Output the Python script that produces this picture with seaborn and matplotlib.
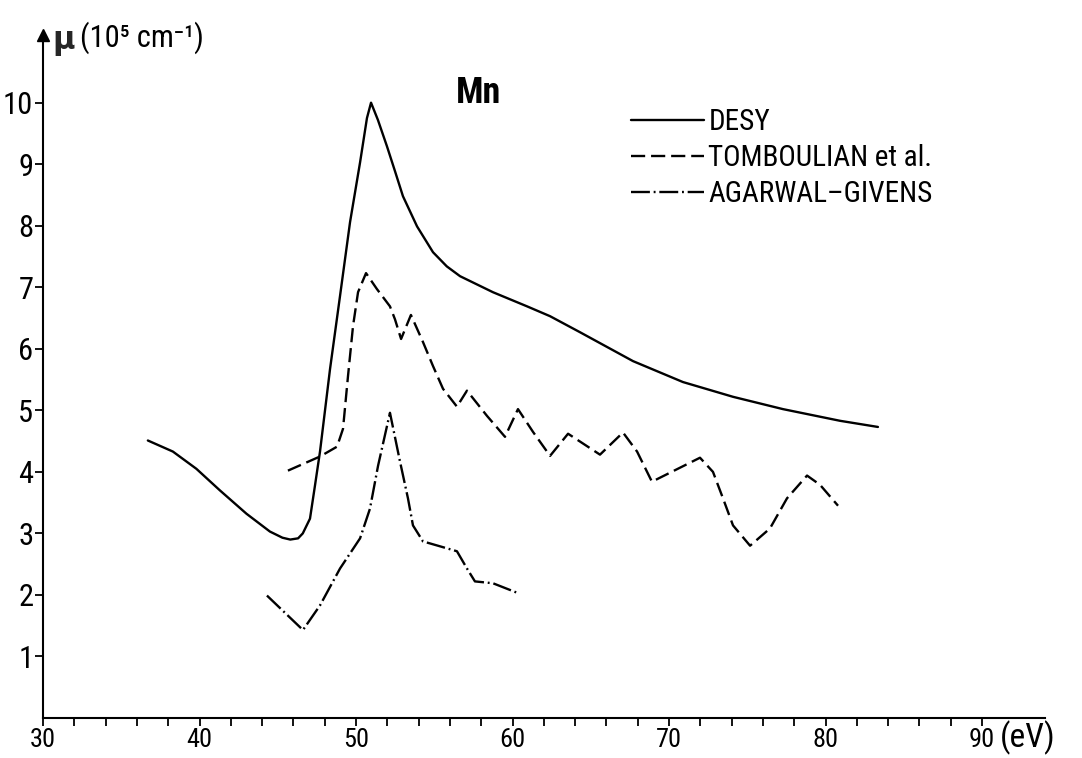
import numpy as np
import pandas as pd
import seaborn as sns
import matplotlib
matplotlib.use("Agg")
import matplotlib.pyplot as plt
import matplotlib.font_manager as fm

# ---- data (photon energy in eV, absorption coefficient in 10^5 cm^-1) ----
desy_x = [36.7, 38.3, 39.8, 41.3, 43.0, 44.5, 45.3, 45.8, 46.3, 46.6, 47.06, 47.38, 47.7,
          48.34, 48.98, 49.62, 50.26, 50.7, 50.96, 51.4, 51.98, 52.5, 53.0, 53.9, 54.92,
          55.8, 56.65, 58.75, 60.93, 62.4, 64.31, 67.7, 70.89, 74.09, 77.28, 80.93, 83.35]
desy_y = [4.51, 4.33, 4.05, 3.70, 3.32, 3.03, 2.93, 2.90, 2.92, 3.00, 3.24, 3.78, 4.33,
          5.67, 6.86, 8.06, 9.03, 9.75, 10.0, 9.72, 9.29, 8.88, 8.48, 7.99, 7.57,
          7.34, 7.18, 6.92, 6.69, 6.53, 6.27, 5.80, 5.46, 5.22, 5.02, 4.83, 4.73]

tomb_x = [45.65, 47.7, 48.79, 49.17, 49.49, 49.81, 50.13, 50.64, 51.34, 52.17, 52.49, 52.88,
          53.51, 54.28, 54.92, 55.56, 56.45, 57.09, 58.37, 59.52, 60.35, 61.31, 62.4,
          63.55, 65.59, 67.06, 67.96, 68.91, 71.98, 72.81, 73.45, 74.09, 75.18, 76.45,
          77.54, 78.82, 79.65, 80.8]
tomb_y = [4.02, 4.25, 4.41, 4.70, 5.56, 6.37, 6.92, 7.23, 6.97, 6.69, 6.48, 6.16,
          6.55, 6.11, 5.72, 5.35, 5.06, 5.32, 4.91, 4.57, 5.02, 4.65, 4.26,
          4.62, 4.28, 4.64, 4.33, 3.84, 4.23, 4.00, 3.57, 3.13, 2.80, 3.08,
          3.57, 3.94, 3.79, 3.45]

agar_x = [44.31, 46.61, 47.7, 48.98, 50.26, 50.89, 51.41, 52.17, 52.81, 53.32, 53.64,
          54.28, 55.37, 56.45, 57.09, 57.6, 58.75, 60.35]
agar_y = [1.99, 1.43, 1.83, 2.43, 2.92, 3.40, 4.10, 4.96, 4.17, 3.57, 3.13,
          2.87, 2.79, 2.71, 2.43, 2.22, 2.19, 2.03]

x_ticks = [30, 40, 50, 60, 70, 80, 90]
x_minor = list(range(30, 92, 2))
y_ticks = [1, 2, 3, 4, 5, 6, 7, 8, 9, 10]
labels = ["DESY", "TOMBOULIAN et al.", "AGARWAL\u2013GIVENS"]

sns.set_theme(style="ticks")

# ---- pick a narrow/condensed sans font if one is installed ----
pref = ["Liberation Sans Narrow", "Roboto Condensed", "Arial Narrow",
        "Nimbus Sans Narrow", "Noto Sans Condensed", "Open Sans Condensed"]
entries = fm.fontManager.ttflist
names = {f.name for f in entries}
fam, stretch, scale = "DejaVu Sans", None, 0.78
for p in pref:
    if p in names:
        fam, stretch, scale = p, None, 1.0
        break
else:
    for f in entries:
        st = str(f.stretch).lower()
        fn = f.fname.lower()
        if ("condensed" in st) or ("condensed" in fn) or ("narrow" in fn):
            if "mono" in fn or "serif" in fn and "sans" not in fn:
                continue
            fam = f.name
            stretch = f.stretch
            scale = 1.0
            break
plt.rcParams["font.family"] = [fam, "DejaVu Sans"]
if stretch is not None:
    plt.rcParams["font.stretch"] = stretch

W, H = 1082, 758
fig = plt.figure(figsize=(W / 100, H / 100), dpi=100)
ax = fig.add_axes([43 / W, 40 / H, 1002 / W, 683 / H])

sns.lineplot(x=desy_x, y=desy_y, ax=ax, color="black", lw=1.7, sort=False,
             estimator=None, label=labels[0])
sns.lineplot(x=tomb_x, y=tomb_y, ax=ax, color="black", lw=1.7, sort=False,
             estimator=None, label=labels[1], linestyle=(0, (6, 2.5)))
sns.lineplot(x=agar_x, y=agar_y, ax=ax, color="black", lw=1.7, sort=False,
             estimator=None, label=labels[2], linestyle=(0, (8, 1.6, 0.8, 1.6)))

ax.set_xlim(30, 30 + 1002 / 15.65)
ax.set_ylim(0, 11.1)
ax.set_xticks(x_ticks)
ax.set_xticklabels([str(v) for v in x_ticks])
ax.set_xticks(x_minor, minor=True)
ax.set_yticks(y_ticks)
ax.set_yticklabels([str(v) for v in y_ticks])
ax.tick_params(axis="x", which="both", direction="out", length=6, width=1.3,
               pad=1, labelsize=19 * scale, colors="black")
ax.tick_params(axis="y", which="major", direction="out", length=6, width=1.3,
               pad=1, labelsize=22 * scale, colors="black")
ax.set_xlabel("")
ax.set_ylabel("")
for s in ["top", "right"]:
    ax.spines[s].set_visible(False)
for s in ["left", "bottom"]:
    ax.spines[s].set_linewidth(1.5)
    ax.spines[s].set_color("black")
ax.grid(False)

# arrow head on y axis
ax.plot([0], [1], marker="^", color="black", markersize=9, transform=ax.transAxes,
        clip_on=False)

# axis annotations
fig.text(52 / W, 1 - 49 / H, "\u03bc", fontsize=22, fontweight="bold", ha="left",
         va="baseline", family=["DejaVu Sans"])
fig.text(80 / W, 1 - 47 / H, "(10\u2075 cm\u207b\u00b9)", fontsize=22 * scale, ha="left",
         va="baseline", color="black")
fig.text(1000 / W, 1 - 747 / H, "(eV)", fontsize=24 * scale, ha="left", va="baseline",
         color="black")
ax.text(57.8, 10.0, "Mn", fontsize=26 * scale, fontweight="bold", ha="center",
        va="baseline", color="black")

leg = ax.legend(loc="upper left", bbox_to_anchor=(631 / W, 1 - 108 / H),
                bbox_transform=fig.transFigure, frameon=False, fontsize=21 * scale,
                handlelength=2.5 / scale, handletextpad=0.15, labelspacing=0.28,
                borderpad=0, borderaxespad=0)
for t in leg.get_texts():
    t.set_color("black")

fig.savefig("out.png", dpi=100, facecolor="white")
